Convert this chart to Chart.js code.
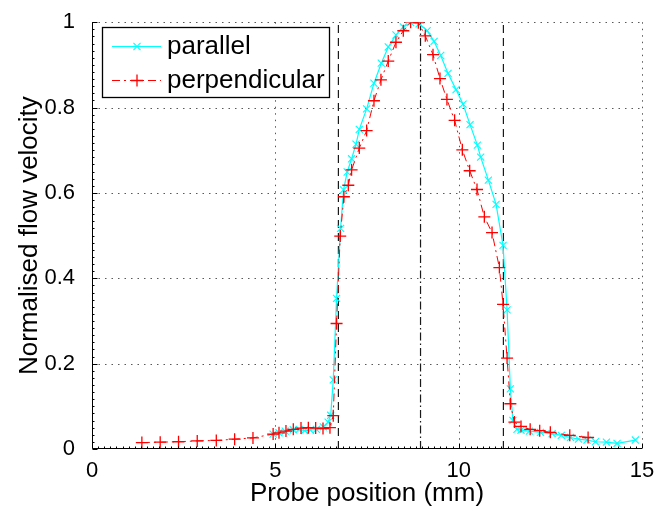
<!DOCTYPE html>
<html>
<head>
<meta charset="utf-8">
<script src="https://cdn.jsdelivr.net/npm/chart.js@4/dist/chart.umd.min.js"></script>
<style>
html, body { margin: 0; padding: 0; background: #fff; }
canvas { display: block; }
</style>
</head>
<body>
<canvas id="profile" width="658" height="513"></canvas>
<script>
// velocity profile across the vessel, normalised to the peak
var parallelX = [4.94, 5.10, 5.27, 5.49, 5.65, 5.80, 5.96, 6.12, 6.31, 6.44, 6.51, 6.58, 6.67, 6.78, 6.86,
    6.96, 7.08, 7.20, 7.29, 7.49, 7.69, 7.89, 8.08, 8.29, 8.49, 8.69, 8.92, 9.14, 9.33, 9.51, 9.71, 9.93,
    10.12, 10.31, 10.51, 10.60, 10.81, 11.02, 11.21, 11.32, 11.41, 11.48, 11.59, 11.70, 11.93, 12.23,
    12.55, 12.80, 13.05, 13.27, 13.50, 13.73, 14.03, 14.32, 14.82];
var parallelY = [0.035, 0.038, 0.042, 0.045, 0.046, 0.043, 0.044, 0.046, 0.052, 0.063, 0.079, 0.162, 0.353,
    0.517, 0.607, 0.649, 0.680, 0.714, 0.749, 0.797, 0.857, 0.904, 0.942, 0.970, 0.989, 0.999, 0.996,
    0.980, 0.955, 0.922, 0.880, 0.842, 0.808, 0.760, 0.712, 0.684, 0.630, 0.573, 0.477, 0.326, 0.141,
    0.067, 0.046, 0.044, 0.042, 0.039, 0.036, 0.032, 0.027, 0.023, 0.021, 0.017, 0.016, 0.013, 0.021];

var perpX = [1.36, 1.86, 2.36, 2.87, 3.39, 3.89, 4.39, 4.94, 5.10, 5.29, 5.49, 5.70, 5.90, 6.10, 6.30,
    6.49, 6.58, 6.67, 6.77, 6.87, 6.99, 7.08, 7.29, 7.49, 7.69, 7.88, 8.08, 8.29, 8.49, 8.69, 8.90, 9.09,
    9.30, 9.49, 9.68, 9.89, 10.10, 10.30, 10.50, 10.70, 10.91, 11.11, 11.21, 11.32, 11.41, 11.52, 11.70,
    11.95, 12.21, 12.50, 13.03, 13.53];
var perpY = [0.015, 0.016, 0.017, 0.019, 0.020, 0.023, 0.026, 0.035, 0.038, 0.042, 0.046, 0.049, 0.050,
    0.049, 0.048, 0.050, 0.078, 0.294, 0.499, 0.591, 0.618, 0.654, 0.705, 0.746, 0.816, 0.865, 0.909,
    0.953, 0.980, 1.000, 0.999, 0.968, 0.924, 0.868, 0.819, 0.770, 0.701, 0.652, 0.608, 0.544, 0.507,
    0.425, 0.339, 0.213, 0.106, 0.063, 0.053, 0.046, 0.043, 0.039, 0.032, 0.027];

// walls and centreline
var wallLines = [6.72, 11.22];
var centreLine = 8.96;

var xTicks = [0, 5, 10, 15];
var xTickLabels = ['0', '5', '10', '15'];
var yTicks = [0, 0.2, 0.4, 0.6, 0.8, 1];
var yTickLabels = ['0', '0.2', '0.4', '0.6', '0.8', '1'];

var FONT = 'Liberation Sans';

function toPoints(xs, ys) {
    return xs.map(function (x, i) { return { x: x, y: ys[i] }; });
}

function vline(x, dash) {
    return {
        label: '',
        data: [{ x: x, y: 0 }, { x: x, y: 1 }],
        showLine: true,
        borderColor: '#1a1a1a',
        borderWidth: 1.2,
        borderDash: dash,
        pointRadius: 0,
        inLegend: false
    };
}

function setTicks(values) {
    return function (scale) {
        scale.ticks = values.map(function (v) { return { value: v }; });
    };
}

// grid, axis lines and inward ticks the way matlab draws them
var axesPlugin = {
    id: 'matlabAxes',
    beforeDatasetsDraw: function (chart) {
        var ctx = chart.ctx, a = chart.chartArea;
        var xs = chart.scales.x, ys = chart.scales.y;
        ctx.save();
        ctx.strokeStyle = 'rgba(0,0,0,0.65)';
        ctx.lineWidth = 1;
        ctx.setLineDash([1.5, 5]);
        ctx.beginPath();
        xTicks.forEach(function (v) {
            if (v === 0) return;
            var px = Math.round(xs.getPixelForValue(v)) + 0.5;
            ctx.moveTo(px, a.top);
            ctx.lineTo(px, a.bottom);
        });
        yTicks.forEach(function (v) {
            if (v === 0) return;
            var py = Math.round(ys.getPixelForValue(v)) + 0.5;
            ctx.moveTo(a.left, py);
            ctx.lineTo(a.right, py);
        });
        ctx.stroke();
        ctx.restore();
    },
    afterDatasetsDraw: function (chart) {
        var ctx = chart.ctx, a = chart.chartArea;
        var xs = chart.scales.x, ys = chart.scales.y;
        var left = Math.round(a.left) + 0.5, bottom = Math.round(a.bottom) - 0.5;
        ctx.save();
        ctx.strokeStyle = '#000';
        ctx.lineWidth = 1;
        ctx.beginPath();
        ctx.moveTo(left, a.top);
        ctx.lineTo(left, bottom);
        ctx.lineTo(a.right, bottom);
        var i, px, py;
        for (i = 0; i <= 90; i++) {
            px = Math.round(xs.getPixelForValue(i / 6)) + 0.5;
            ctx.moveTo(px, bottom);
            ctx.lineTo(px, bottom - (i % 30 === 0 ? 5 : 2));
        }
        for (i = 0; i <= 60; i++) {
            py = Math.round(ys.getPixelForValue(i / 60)) + 0.5;
            ctx.moveTo(left, py);
            ctx.lineTo(left + (i % 12 === 0 ? 5 : 2), py);
        }
        ctx.stroke();
        ctx.restore();
    }
};

function drawMarker(ctx, style, x, y, r) {
    ctx.beginPath();
    if (style === 'cross') {
        ctx.moveTo(x - r, y); ctx.lineTo(x + r, y);
        ctx.moveTo(x, y - r); ctx.lineTo(x, y + r);
    } else {
        var d = r * Math.SQRT1_2;
        ctx.moveTo(x - d, y - d); ctx.lineTo(x + d, y + d);
        ctx.moveTo(x - d, y + d); ctx.lineTo(x + d, y - d);
    }
    ctx.stroke();
}

// boxed legend inside the axes, top left
var boxLegend = {
    id: 'boxLegend',
    afterDraw: function (chart) {
        var ctx = chart.ctx;
        var bx = 102.5, by = 27.5, bw = 227, bh = 70;
        ctx.save();
        ctx.fillStyle = '#fff';
        ctx.fillRect(bx, by, bw, bh);
        ctx.strokeStyle = '#000';
        ctx.lineWidth = 1.3;
        ctx.strokeRect(bx, by, bw, bh);
        var rows = chart.data.datasets.filter(function (d) { return d.inLegend !== false; });
        rows.sort(function (p, q) { return p.legendRow - q.legendRow; });
        rows.forEach(function (d, i) {
            var y = 46 + i * 34;
            ctx.strokeStyle = d.borderColor;
            ctx.lineWidth = 1;
            ctx.setLineDash(d.borderDash || []);
            ctx.beginPath();
            ctx.moveTo(112, y + 0.5);
            ctx.lineTo(161, y + 0.5);
            ctx.stroke();
            ctx.setLineDash([]);
            ctx.lineWidth = d.pointBorderWidth;
            drawMarker(ctx, d.pointStyle, 137, y + 0.5, d.pointRadius);
            ctx.fillStyle = '#000';
            ctx.font = '26px "' + FONT + '"';
            ctx.textBaseline = 'middle';
            ctx.fillText(d.label, 167, y + 1);
        });
        ctx.restore();
    }
};

var chart = new Chart(document.getElementById('profile'), {
    type: 'scatter',
    data: {
        datasets: [
            {
                label: 'perpendicular',
                legendRow: 1,
                data: toPoints(perpX, perpY),
                showLine: true,
                borderColor: '#ff0000',
                backgroundColor: '#ff0000',
                borderWidth: 1,
                borderDash: [8, 4, 2, 4],
                pointStyle: 'cross',
                pointRadius: 6,
                pointBorderWidth: 1.3
            },
            {
                label: 'parallel',
                legendRow: 0,
                data: toPoints(parallelX, parallelY),
                showLine: true,
                borderColor: '#00ffff',
                backgroundColor: '#00ffff',
                borderWidth: 1.2,
                pointStyle: 'crossRot',
                pointRadius: 5,
                pointBorderWidth: 1.1
            },
            vline(wallLines[0], [8, 5]),
            vline(centreLine, [8, 3, 1.5, 3]),
            vline(wallLines[1], [8, 5])
        ]
    },
    options: {
        responsive: false,
        animation: false,
        layout: { padding: { left: 0, right: 16, top: 18, bottom: 0 } },
        plugins: {
            legend: { display: false },
            tooltip: { enabled: false }
        },
        scales: {
            x: {
                type: 'linear',
                min: 0,
                max: 15,
                afterBuildTicks: setTicks(xTicks),
                afterFit: function (s) { s.height = 64; },
                grid: { display: false },
                border: { display: false },
                ticks: {
                    padding: 1,
                    color: '#000',
                    font: { family: FONT, size: 22 },
                    maxRotation: 0,
                    callback: function (v) { return xTickLabels[xTicks.indexOf(v)]; }
                },
                title: {
                    display: true,
                    text: 'Probe position (mm)',
                    color: '#000',
                    font: { family: FONT, size: 26 },
                    padding: { top: 0, bottom: 4 }
                }
            },
            y: {
                type: 'linear',
                min: 0,
                max: 1,
                afterBuildTicks: setTicks(yTicks),
                afterFit: function (s) { s.width = 92; },
                grid: { display: false },
                border: { display: false },
                ticks: {
                    padding: 9,
                    color: '#000',
                    font: { family: FONT, size: 22 },
                    callback: function (v) { return yTickLabels[yTicks.indexOf(v)]; }
                },
                title: {
                    display: true,
                    text: 'Normalised flow velocity',
                    color: '#000',
                    font: { family: FONT, size: 26 },
                    padding: { top: 14, bottom: 0 }
                }
            }
        }
    },
    plugins: [axesPlugin, boxLegend]
});
</script>
</body>
</html>
